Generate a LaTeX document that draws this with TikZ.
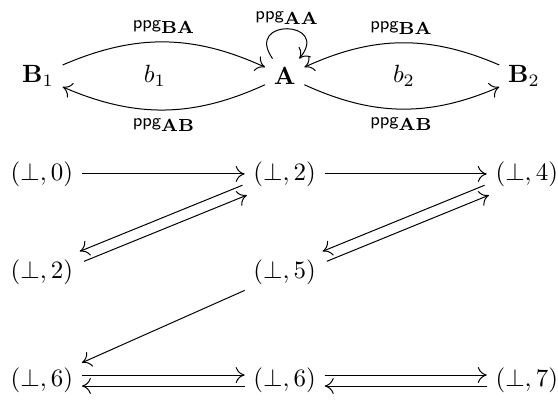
\documentclass[tikz,border=0pt]{standalone}
\usepackage{amsmath, amssymb}
\usepackage{tikz}
\usetikzlibrary{arrows.meta}
\newcommand{\ppglbl}[1]{\text{\scriptsize\sffamily ppg}_{\mathbf{#1}}}

\begin{document}
\begin{tikzpicture}[>={To[length=3.6pt, width=6.4pt]},
    upshift/.style={transform canvas={yshift=2.2pt}},
    downshift/.style={transform canvas={yshift=-2.2pt}},
    ulshift/.style={transform canvas={shift={(-0.86pt,2pt)}}},
    drshift/.style={transform canvas={shift={(0.86pt,-2pt)}}}]
    \useasboundingbox (0,0) rectangle (7.86,5.63);
    % the two B's around A
    \node (B1) at (0.535,4.56) {$\mathbf{B}_1$};
    \node (A) at (4.01,4.56) {$\mathbf{A}$};
    \node (B2) at (7.38,4.56) {$\mathbf{B}_2$};
    \node (b1) at (2.18,4.56) {$b_1$};
    \node (b2) at (5.69,4.56) {$b_2$};
    \draw[->] (B1) to[bend left=24] node[above] {$\ppglbl{BA}$} (A);
    \draw[->] (A) to[bend left=24] node[below] {$\ppglbl{AB}$} (B1);
    \draw[->] (B2) to[bend right=24] node[above] {$\ppglbl{BA}$} (A);
    \draw[->] (A) to[bend right=24] node[below] {$\ppglbl{AB}$} (B2);
    \draw[->] (A) to[out=125, in=50, looseness=4.8] node[above, inner sep=1.5pt] {$\ppglbl{AA}$} (A);
    % lattice of pairs
    \node (l1) at (0.59,3.18) {$(\bot,0)$};
    \node (m1) at (4.01,3.18) {$(\bot,2)$};
    \node (r1) at (7.42,3.18) {$(\bot,4)$};
    \node (l2) at (0.59,1.79) {$(\bot,2)$};
    \node (m2) at (4.01,1.79) {$(\bot,5)$};
    \node (l3) at (0.59,0.27) {$(\bot,6)$};
    \node (m3) at (4.01,0.27) {$(\bot,6)$};
    \node (r3) at (7.42,0.27) {$(\bot,7)$};
    \draw[->] (l1) -- (m1);
    \draw[->] (m1) -- (r1);
    \draw[->, ulshift] (m1) -- (l2);
    \draw[->, drshift] (l2) -- (m1);
    \draw[->, ulshift] (r1) -- (m2);
    \draw[->, drshift] (m2) -- (r1);
    \draw[->] (m2) -- (l3);
    \draw[->, upshift] (l3) -- (m3);
    \draw[->, downshift] (m3) -- (l3);
    \draw[->, upshift] (m3) -- (r3);
    \draw[->, downshift] (r3) -- (m3);
\end{tikzpicture}
\end{document}
